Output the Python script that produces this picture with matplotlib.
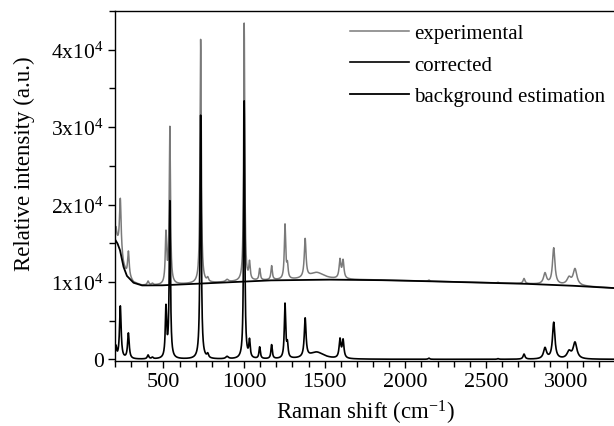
import numpy as np
import matplotlib.pyplot as plt
from matplotlib.ticker import MultipleLocator, FuncFormatter

plt.rcParams['font.family'] = 'Liberation Serif'
plt.rcParams['mathtext.fontset'] = 'custom'
plt.rcParams['mathtext.rm'] = 'Liberation Serif'

# corrected spectrum: peak centres (cm-1), heights (counts), widths (FWHM, cm-1)
peak_pos = [206, 233, 283, 405, 432, 516, 540, 731, 775, 895, 1001, 1034, 1097,
            1171, 1254, 1269, 1379, 1450, 1595, 1614, 2146, 2575, 2736, 2866,
            2920, 3015, 3052]
peak_height = [1500, 6800, 3300, 500, 200, 6400, 20200, 31500, 500, 300, 33300, 2200,
               1500, 1800, 7000, 1700, 5000, 900, 2400, 2300, 150, 80, 650, 1400,
               4700, 900, 2100]
peak_width = [10, 12, 12, 12, 12, 10, 9, 9, 12, 20, 8, 10, 10,
              10, 10, 10, 13, 110, 13, 13, 10, 10, 14, 22,
              18, 30, 28]

# background estimation
bg_x = [200, 215, 231, 252, 273, 314, 366, 479, 789, 1161, 1500, 1800, 2030,
        2500, 2730, 3000, 3300]
bg_y = [15500, 15000, 14100, 12000, 10800, 9900, 9550, 9550, 9850, 10200, 10300,
        10250, 10150, 9900, 9770, 9550, 9200]

shift = np.arange(200, 3301, 1.0)
corrected = np.zeros_like(shift)
for p, h, w in zip(peak_pos, peak_height, peak_width):
    corrected += h / (1 + ((shift - p) / (w / 2)) ** 2)
background = np.interp(shift, bg_x, bg_y)
experimental = corrected + background

fig = plt.figure(figsize=(6.14, 4.27), dpi=100)
ax = fig.add_axes([115 / 614, 1 - 361.5 / 427, 500 / 614, (361.5 - 12) / 427])

ax.plot(shift, experimental, color='#7a7a7a', lw=1.1, label='experimental')
ax.plot(shift, corrected, color='black', lw=1.2, label='corrected')
ax.plot(shift, background, color='black', lw=1.3, label='background estimation')

ax.set_xlim(200, 3300)
ax.set_ylim(-150, 45000)
ax.spines['right'].set_visible(False)
for s in ['left', 'top', 'bottom']:
    ax.spines[s].set_linewidth(1.0)

ax.xaxis.set_major_locator(MultipleLocator(500))
ax.xaxis.set_minor_locator(MultipleLocator(100))
ax.yaxis.set_major_locator(MultipleLocator(10000))
ax.yaxis.set_minor_locator(MultipleLocator(5000))
ax.tick_params(which='both', direction='out', top=False, right=False)
ax.tick_params(axis='x', labelsize=16)
ax.tick_params(axis='y', labelsize=15.5, pad=3)
ax.tick_params(which='major', length=5, width=1.0)
ax.tick_params(which='minor', length=4, width=1.0)


def ylab(v, pos):
    if v == 0:
        return '0'
    return r'$\mathregular{%dx10^{4}}$' % round(v / 10000)


ax.yaxis.set_major_formatter(FuncFormatter(ylab))

ax.set_xlabel(r'Raman shift (cm$\mathregular{^{-1}}$)', fontsize=16.5, labelpad=5)
ax.set_ylabel('Relative intensity (a.u.)', fontsize=16.5)
ax.yaxis.set_label_coords(-0.16, 0.565)

ax.legend(loc='upper left', bbox_to_anchor=(340 / 614, 1 - 14 / 427),
          bbox_transform=fig.transFigure, frameon=False, fontsize=15,
          handlelength=2.8, handletextpad=0.25, labelspacing=0.58, borderpad=0)

fig.savefig('out.png', dpi=100)
